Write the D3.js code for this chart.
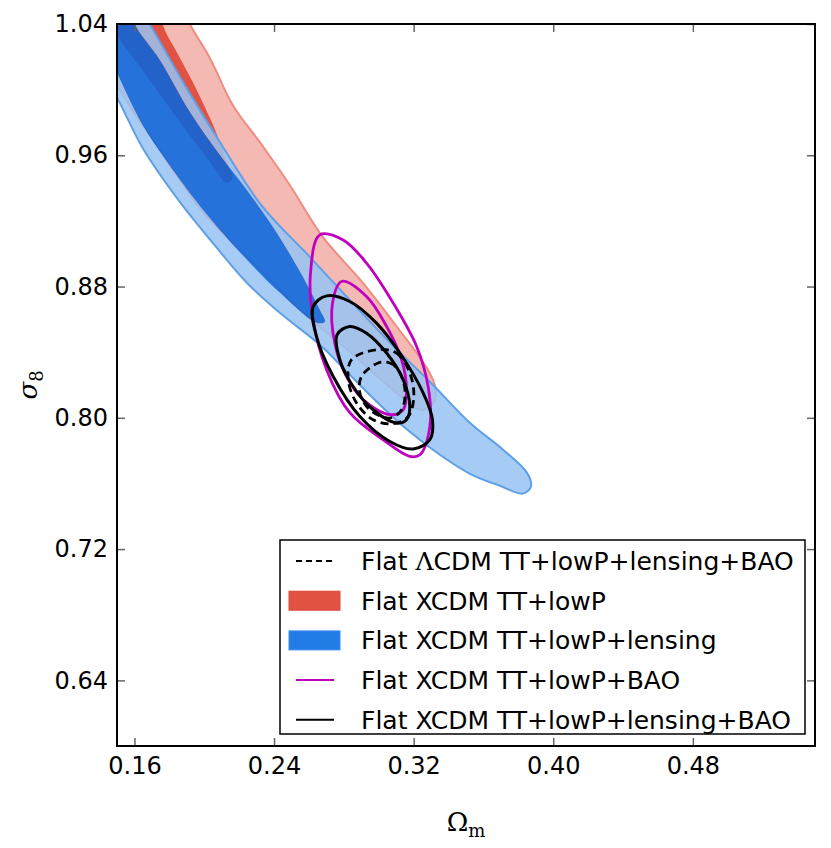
<!DOCTYPE html>
<html>
<head>
<meta charset="utf-8">
<script src="https://cdn.jsdelivr.net/npm/d3@7"></script>
<style>
  body { margin: 0; background: #fff; }
  text { font-family: "DejaVu Sans", sans-serif; }
</style>
</head>
<body>
<div id="chart"></div>
<script>
const width = 831;
const height = 848;
const margin = { top: 24, right: 16, bottom: 102, left: 117 };

// tick values
const omegaTicks = [0.16, 0.24, 0.32, 0.40, 0.48];
const sigmaTicks = [0.64, 0.72, 0.80, 0.88, 0.96, 1.04];

// contour boundaries, [Omega_m, sigma_8]
// TT+lowP (red)
const redOuter95 = [[0.1831,1.0607],[0.1917,1.04],[0.2032,1.0193],[0.2163,0.9907],[0.2330,0.9663],[0.2490,0.9419],
  [0.2679,0.9103],[0.2909,0.8823],[0.3104,0.8555],[0.3282,0.8293],[0.3327,0.8171],[0.3305,0.8080],[0.3236,0.8049],
  [0.3081,0.8171],[0.2834,0.8402],[0.2548,0.8658],[0.2318,0.8902],[0.2106,0.9127],[0.1974,0.9279],[0.1745,0.9633],
  [0.1533,0.9968],[0.1429,1.0181],[0.1401,1.0607]];
const redInner68 = [[0.1745,1.0607],[0.1762,1.04],[0.1842,1.0229],[0.1934,1.0047],[0.2032,0.9828],[0.2089,0.9681],
  [0.2135,0.9541],[0.2163,0.9462],[0.2129,0.9432],[0.2032,0.9560],[0.1860,0.9803],[0.1688,1.0059],[0.1498,1.0333],
  [0.1429,1.0455],[0.1458,1.0607]];
// TT+lowP+lensing (blue)
const blueOuter95 = [[0.1573,1.0607],[0.1688,1.04],[0.1888,1.0029],[0.2089,0.9681],[0.2335,0.9285],[0.2605,0.8981],
  [0.2817,0.8737],[0.3104,0.8415],[0.3293,0.8220],[0.3522,0.7970],[0.3712,0.7806],[0.3849,0.7666],[0.3872,0.7580],
  [0.3826,0.7538],[0.3694,0.7586],[0.3522,0.7659],[0.3350,0.7775],[0.3178,0.7915],[0.3006,0.8080],[0.2834,0.8262],
  [0.2662,0.8445],[0.2433,0.8640],[0.2244,0.8823],[0.2049,0.9066],[0.1860,0.9316],[0.1647,0.9645],[0.1498,0.9955],
  [0.1401,1.0120],[0.1372,1.0607]];
const blueInner68 = [[0.1544,1.0607],[0.1601,1.04],[0.1745,1.0181],[0.1917,0.9864],[0.2089,0.9602],[0.2244,0.9389],
  [0.2416,0.9127],[0.2565,0.8859],[0.2662,0.8658],[0.2691,0.8585],[0.2645,0.8579],[0.2433,0.8762],[0.2244,0.8963],
  [0.2003,0.9255],[0.1842,0.9480],[0.1647,0.9785],[0.1498,1.0108],[0.1429,1.0272],[0.1401,1.0607]];
// TT+lowP+BAO (magenta)
const baoOuter95 = [[0.2662,0.9115],[0.2796,0.9084],[0.2930,0.8943],[0.3083,0.8699],[0.3217,0.8435],[0.3283,0.8191],
  [0.3293,0.7948],[0.3236,0.7775],[0.3178,0.7765],[0.3024,0.7867],[0.2834,0.8031],[0.2701,0.8293],[0.2624,0.8597],
  [0.2609,0.8882]];
const baoInner68 = [[0.2787,0.8831],[0.2930,0.8739],[0.3045,0.8557],[0.3131,0.8354],[0.3159,0.8171],[0.3140,0.8049],
  [0.3064,0.8019],[0.2911,0.8110],[0.2815,0.8252],[0.2748,0.8455],[0.2735,0.8699]];
// TT+lowP+lensing+BAO (black)
const lensBaoOuter95 = [[0.2701,0.8743],[0.2834,0.8709],[0.2987,0.8577],[0.3121,0.8395],[0.3255,0.8151],[0.3308,0.7988],
  [0.3293,0.7867],[0.3197,0.7810],[0.3064,0.7856],[0.2892,0.8008],[0.2739,0.8252],[0.2643,0.8496],[0.2624,0.8678]];
const lensBaoInner68 = [[0.2834,0.8557],[0.2930,0.8516],[0.3045,0.8395],[0.3140,0.8232],[0.3178,0.8069],[0.3159,0.7988],
  [0.3102,0.7968],[0.2968,0.8049],[0.2853,0.8191],[0.2777,0.8354],[0.2761,0.8506]];
// flat LCDM TT+lowP+lensing+BAO (dashed)
const lcdmOuter95 = [[0.2987,0.8415],[0.3102,0.8395],[0.3178,0.8273],[0.3201,0.8130],[0.3169,0.8008],[0.3083,0.7964],
  [0.2968,0.7988],[0.2873,0.8090],[0.2825,0.8232],[0.2844,0.8354]];
const lcdmInner68 = [[0.2997,0.8334],[0.3064,0.8334],[0.3111,0.8293],[0.3150,0.8171],[0.3131,0.8049],[0.3064,0.7999],
  [0.2949,0.8049],[0.2892,0.8151],[0.2901,0.8252]];

const legendLabels = [
  "Flat ΛCDM TT+lowP+lensing+BAO",
  "Flat XCDM TT+lowP",
  "Flat XCDM TT+lowP+lensing",
  "Flat XCDM TT+lowP+BAO",
  "Flat XCDM TT+lowP+lensing+BAO"
];

const svg = d3.select("#chart").append("svg")
  .attr("width", width)
  .attr("height", height);

const x = d3.scaleLinear().domain([0.15, 0.55]).range([margin.left, width - margin.right]);
const y = d3.scaleLinear().domain([0.60, 1.04]).range([height - margin.bottom, margin.top]);

svg.append("clipPath").attr("id", "plot-clip")
  .append("rect")
  .attr("x", x(0.15)).attr("y", y(1.04))
  .attr("width", x(0.55) - x(0.15)).attr("height", y(0.60) - y(1.04));

const line = d3.line()
  .x(d => x(d[0]))
  .y(d => y(d[1]))
  .curve(d3.curveCatmullRomClosed.alpha(0.5));

const plot = svg.append("g").attr("clip-path", "url(#plot-clip)");

// ===== RED (TT+lowP) =====
plot.append("path").attr("d", line(redOuter95))
  .attr("fill", "#f4b9b2").attr("stroke", "#ee8c82").attr("stroke-width", 2);
plot.append("path").attr("d", line(redInner68))
  .attr("fill", "#e25243");

// ===== BLUE (TT+lowP+lensing) =====
plot.append("path").attr("d", line(blueOuter95) + line(blueInner68))
  .attr("fill", "#96c3f3").attr("fill-rule", "evenodd").attr("fill-opacity", 0.85);
plot.append("path").attr("d", line(blueInner68))
  .attr("fill", "#0065e0").attr("fill-opacity", 0.85);
plot.append("path").attr("d", line(blueOuter95))
  .attr("fill", "none").attr("stroke", "#5f9fe6").attr("stroke-width", 2);

// ===== LINE CONTOURS =====
[baoOuter95, baoInner68].forEach(c => {
  plot.append("path").attr("d", line(c))
    .attr("fill", "none").attr("stroke", "#bf00bf").attr("stroke-width", 2.8);
});
[lensBaoOuter95, lensBaoInner68].forEach(c => {
  plot.append("path").attr("d", line(c))
    .attr("fill", "none").attr("stroke", "#000").attr("stroke-width", 3);
});
[lcdmOuter95, lcdmInner68].forEach(c => {
  plot.append("path").attr("d", line(c))
    .attr("fill", "none").attr("stroke", "#000").attr("stroke-width", 2.8)
    .attr("stroke-dasharray", "8,5");
});

// ===== AXES =====
const fmt = d3.format(".2f");
const styleAxis = g => {
  g.select(".domain").remove();
  g.selectAll(".tick line").attr("stroke", "#666").attr("stroke-width", 1.5);
  g.selectAll(".tick text").attr("fill", "#000")
    .style("font-size", "24px").style("font-family", "DejaVu Sans, sans-serif");
};

svg.append("g")
  .attr("transform", `translate(0,${height - margin.bottom})`)
  .call(d3.axisBottom(x).tickValues(omegaTicks).tickSize(-8).tickPadding(11).tickFormat(fmt))
  .call(styleAxis);
svg.append("g")
  .attr("transform", `translate(0,${margin.top})`)
  .call(d3.axisTop(x).tickValues(omegaTicks).tickSize(-8).tickFormat(""))
  .call(styleAxis);
svg.append("g")
  .attr("transform", `translate(${margin.left},0)`)
  .call(d3.axisLeft(y).tickValues(sigmaTicks).tickSize(-8).tickPadding(9).tickFormat(fmt))
  .call(styleAxis);
svg.append("g")
  .attr("transform", `translate(${width - margin.right},0)`)
  .call(d3.axisRight(y).tickValues(sigmaTicks).tickSize(-8).tickFormat(""))
  .call(styleAxis);

// frame
svg.append("rect")
  .attr("x", x(0.15)).attr("y", y(1.04))
  .attr("width", x(0.55) - x(0.15)).attr("height", y(0.60) - y(1.04))
  .attr("fill", "none").attr("stroke", "#000").attr("stroke-width", 2);

// axis labels
const xl = svg.append("text")
  .attr("x", (x(0.15) + x(0.55)) / 2).attr("y", 831)
  .attr("text-anchor", "middle")
  .style("font-family", "DejaVu Serif, serif").style("font-size", "26px");
xl.append("tspan").text("Ω");
xl.append("tspan").attr("dy", 6).style("font-size", "18px").text("m");

const yl = svg.append("text")
  .attr("transform", `translate(37,${(y(0.60) + y(1.04)) / 2}) rotate(-90)`)
  .attr("text-anchor", "middle")
  .style("font-family", "DejaVu Serif, serif").style("font-size", "26px");
yl.append("tspan").style("font-style", "italic").text("σ");
yl.append("tspan").attr("dy", 6).style("font-size", "18px").text("8");

// ===== LEGEND =====
const legend = svg.append("g");
legend.append("rect")
  .attr("x", 280).attr("y", 540).attr("width", 525).attr("height", 194)
  .attr("fill", "#fff").attr("stroke", "#000").attr("stroke-width", 1.5);

const rowY = i => 561 + i * 39.7;
const handleX0 = 296, handleX1 = 334;

// handles
legend.append("line").attr("x1", handleX0).attr("x2", handleX1).attr("y1", rowY(0)).attr("y2", rowY(0))
  .attr("stroke", "#000").attr("stroke-width", 2).attr("stroke-dasharray", "6,4");
legend.append("rect").attr("x", 289).attr("y", rowY(1) - 9.5).attr("width", 51).attr("height", 19)
  .attr("fill", "#e25243").attr("stroke", "#d9483a").attr("stroke-width", 1);
legend.append("rect").attr("x", 289).attr("y", rowY(2) - 9.5).attr("width", 51).attr("height", 19)
  .attr("fill", "#237ce6").attr("stroke", "#3a8cf0").attr("stroke-width", 1);
legend.append("line").attr("x1", handleX0).attr("x2", handleX1).attr("y1", rowY(3)).attr("y2", rowY(3))
  .attr("stroke", "#bf00bf").attr("stroke-width", 2);
legend.append("line").attr("x1", handleX0).attr("x2", handleX1).attr("y1", rowY(4)).attr("y2", rowY(4))
  .attr("stroke", "#000").attr("stroke-width", 2);

legendLabels.forEach((label, i) => {
  const t = legend.append("text")
    .attr("x", 361).attr("y", rowY(i)).attr("dy", "0.36em")
    .style("font-size", "25px");
  const parts = label.split("Λ");
  t.append("tspan").text(parts[0]);
  if (parts.length > 1) {
    t.append("tspan").style("font-family", "DejaVu Serif, serif").text("Λ");
    t.append("tspan").text(parts[1]);
  }
});
</script>
</body>
</html>
